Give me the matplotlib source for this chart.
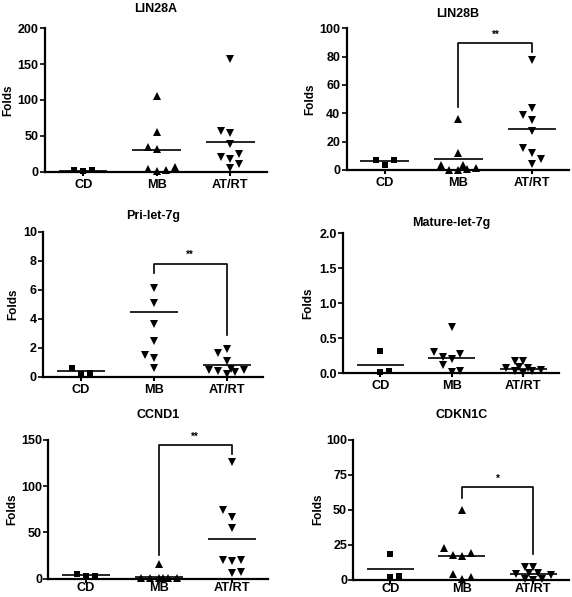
import numpy as np
import matplotlib
matplotlib.use('Agg')
from matplotlib import pyplot as plt

groups = ['CD', 'MB', 'AT/RT']

# values; *_dx = horizontal scatter steps, *_mean = drawn mean line
lin28a_cd = [3, 1, 2]
lin28a_mb = [105, 56, 34, 31, 4, 1, 3, 6]
lin28a_atrt = [157, 57, 54, 38.6, 21, 17.7, 24.7, 10.7, 5.6]
lin28a_mean = [1.5, 30, 42]

lin28b_cd = [6.8, 3.8, 6.8]
lin28b_mb = [36, 12, 3.5, 0.3, 0, 3.8, 0.5, 1.5]
lin28b_atrt = [77.4, 44, 39, 35, 27.6, 15.6, 12, 7.8, 4]
lin28b_mean = [6, 7.5, 29]

pri_cd = [0.58, 0.18, 0.28]
pri_mb = [6.1, 5.1, 3.64, 2.46, 1.5, 1.31, 0.58]
pri_atrt = [1.66, 1.91, 1.07, 0.48, 0.41, 0.2, 0.55, 0.31, 0.45]
pri_mean = [0.37, 4.5, 0.8]

mat_cd = [0.32, 0.02, 0.03]
mat_mb = [0.66, 0.30, 0.23, 0.20, 0.27, 0.12, 0.02, 0.03]
mat_atrt = [0.176, 0.176, 0.09, 0.076, 0.038, 0.071, 0.01, 0.038, 0.043]
mat_mean = [0.12, 0.22, 0.067]

ccnd1_cd = [5, 2.9, 2.9]
ccnd1_mb = [15.5, 0.6, 0.4, 0.3, 0.5, 0.4, 0.6]
ccnd1_atrt = [126.7, 74.7, 66.4, 54.9, 19.9, 19.1, 20.2, 6.1, 7.6]
ccnd1_mean = [4, 2.2, 43]

cdkn_cd = [18.1, 1.7, 2.4]
cdkn_mb = [49.8, 22.4, 17.6, 17.1, 19, 4.3, 0.5, 1.9]
cdkn_atrt = [9.3, 8.8, 5, 3.8, 4.8, 0.7, 0, 0.7, 3.1]
cdkn_mean = [7.4, 17.1, 3.8]

# scatter steps
lin28a_dx = [[-1, 0, 1], [0, 0, -1, 0, -1, 0, 1, 2], [0, -1, 0, 0, -1, 0, 1, 1, 0]]
lin28b_dx = [[-1, 0, 1], [0, 0, -2, -1, 0, 0.5, 1, 2], [0, 0, -1, 0, 0, -1, 0, 1, 0]]
pri_dx = [[-1, 0, 1], [0, 0, 0, 0, -1, 0, 0], [-1, 0, 0, -2, -1, 0, 0.5, 1, 2]]
mat_dx = [[0, 0, 1], [0, -2, -1, 0, 1, -1, 0, 1], [-1, 0, -0.5, -2, -1, 0.5, 0, 1, 2]]
ccnd1_dx = [[-1, 0, 1], [0, -2, -1, 0, 0.5, 1, 2], [0, -1, 0, 0, -1, 0, 1, 0, 1]]
cdkn_dx = [[0, 0, 1], [0, -2, -1, 0, 1, -1, 0, 1], [-1, 0, -0.5, -2, 0.5, -1, 0, 1, 2]]

# significance brackets MB vs AT/RT: (left foot, top, right foot, star y, label)
lin28b_sig = (44.6, 89.4, 83, 92, '**')
pri_sig = (7.14, 7.8, 2.88, 8.05, '**')
ccnd1_sig = (25.6, 144.8, 134.6, 148, '**')
cdkn_sig = (58.6, 66.4, 18.1, 68.5, '*')

plt.rcParams['font.family'] = ['Liberation Sans', 'DejaVu Sans']
plt.rcParams['font.weight'] = 'bold'
plt.rcParams['axes.titleweight'] = 'bold'
plt.rcParams['axes.labelweight'] = 'bold'

JIT = 0.122
W, H = 572, 597

panels = [
    dict(title='LIN28A', vals=[lin28a_cd, lin28a_mb, lin28a_atrt], dx=lin28a_dx, mean=lin28a_mean,
         mk=['s', '^', 'v'], yt=np.arange(0, 201, 50), fmt='{:.0f}', sig=None,
         box=(45, 267, 28.3, 171.7), pad=12, lab=-0.14, xpad=2),
    dict(title='LIN28B', vals=[lin28b_cd, lin28b_mb, lin28b_atrt], dx=lin28b_dx, mean=lin28b_mean,
         mk=['s', '^', 'v'], yt=np.arange(0, 101, 20), fmt='{:.0f}', sig=lin28b_sig,
         box=(346.5, 569, 28.3, 170), pad=8.4, lab=-0.137, xpad=2),
    dict(title='Pri-let-7g', vals=[pri_cd, pri_mb, pri_atrt], dx=pri_dx, mean=pri_mean,
         mk=['s', 'v', 'v'], yt=np.arange(0, 11, 2), fmt='{:.0f}', sig=pri_sig,
         box=(43, 263, 232, 376.7), pad=9.1, lab=-0.11, xpad=2),
    dict(title='Mature-let-7g', vals=[mat_cd, mat_mb, mat_atrt], dx=mat_dx, mean=mat_mean,
         mk=['s', 'v', 'v'], yt=np.arange(0, 2.01, 0.5), fmt='{:.1f}', sig=None,
         box=(343, 559, 233, 373.3), pad=5, lab=-0.134, xpad=2),
    dict(title='CCND1', vals=[ccnd1_cd, ccnd1_mb, ccnd1_atrt], dx=ccnd1_dx, mean=ccnd1_mean,
         mk=['s', '^', 'v'], yt=np.arange(0, 151, 50), fmt='{:.0f}', sig=ccnd1_sig,
         box=(48.3, 268, 440, 578.7), pad=15.6, lab=-0.135, xpad=-0.5),
    dict(title='CDKN1C', vals=[cdkn_cd, cdkn_mb, cdkn_atrt], dx=cdkn_dx, mean=cdkn_mean,
         mk=['s', '^', 'v'], yt=np.arange(0, 101, 25), fmt='{:.0f}', sig=cdkn_sig,
         box=(353.3, 569, 439.7, 579.7), pad=15.4, lab=-0.136, xpad=-0.5),
]

fig = plt.figure(figsize=(W / 100, H / 100), dpi=100)

for p in panels:
    x0, x1, yt_px, y0_px = p['box']
    ax = fig.add_axes([x0 / W, (H - y0_px) / H, (x1 - x0) / W, (y0_px - yt_px) / H])
    for i, (v, dx, mk) in enumerate(zip(p['vals'], p['dx'], p['mk'])):
        xs = i + np.array(dx) * JIT
        ms = 4.5 if mk == 's' else 5.7
        ax.plot(xs, v, linestyle='none', marker=mk, ms=ms, color='k',
                markeredgewidth=0, clip_on=False, zorder=3)
        ax.plot([i - 0.33, i + 0.33], [p['mean'][i]] * 2, color='k', lw=1.2,
                solid_capstyle='butt', clip_on=False)
    if p['sig'] is not None:
        lb, top, rb, sy, lab = p['sig']
        ax.plot([1, 1, 2, 2], [lb, top, top, rb], color='k', lw=1.2, clip_on=False)
        ax.text(1.5, sy, lab, ha='center', va='bottom', fontsize=7, clip_on=False)

    ax.set_xlim(-0.52, 2.5)
    ax.set_ylim(p['yt'][0], p['yt'][-1])
    ax.set_xticks([0, 1, 2])
    ax.set_xticklabels(groups, fontsize=9.2)
    ax.set_yticks(p['yt'])
    ax.set_yticklabels([p['fmt'].format(t) for t in p['yt']], fontsize=9)
    ax.tick_params(axis='x', length=3, width=1.5, pad=p['xpad'])
    ax.tick_params(axis='y', length=3.5, width=1.2, pad=1)
    for s in ['top', 'right']:
        ax.spines[s].set_visible(False)
    for s in ['left', 'bottom']:
        ax.spines[s].set_linewidth(1.6)
    ax.set_title(p['title'], fontsize=9, pad=p['pad'])
    ax.set_ylabel('Folds', fontsize=8.5)
    ax.yaxis.set_label_coords(p['lab'], 0.5)

fig.savefig('out.png', dpi=100)
